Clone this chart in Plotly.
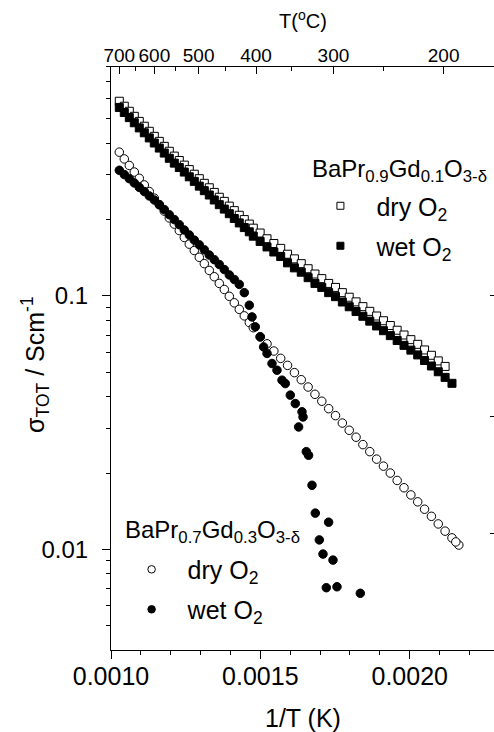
import plotly.graph_objects as go

FONT = "Liberation Sans, Arial, Helvetica, sans-serif"

# ---------------- data ----------------
# shared 1/T grid (K^-1) of the measurement points
inv_T = [0.0010278, 0.0010445, 0.0010613, 0.0010780, 0.0010947, 0.0011115, 0.0011282, 0.0011450, 0.0011617, 0.0011784,
         0.0011952, 0.0012119, 0.0012287, 0.0012454, 0.0012621, 0.0012789, 0.0012956, 0.0013124, 0.0013291, 0.0013458,
         0.0013626, 0.0013793, 0.0013961, 0.0014128, 0.0014295, 0.0014463, 0.0014630,
         0.0014764, 0.0014993, 0.0015223, 0.0015452, 0.0015681, 0.0015911, 0.0016140, 0.0016369, 0.0016599, 0.0016828,
         0.0017057, 0.0017287, 0.0017516, 0.0017745, 0.0017975, 0.0018204, 0.0018433, 0.0018663, 0.0018892, 0.0019121,
         0.0019351, 0.0019580, 0.0019809, 0.0020039, 0.0020268, 0.0020497, 0.0020727, 0.0020956, 0.0021185, 0.0021415, 0.0021644]

# BaPr0.9Gd0.1O3-d, dry O2 (first 56 grid points)
sigma_g01_dry = [0.586, 0.560, 0.535, 0.511, 0.488, 0.467, 0.446, 0.426, 0.407, 0.389,
                 0.372, 0.356, 0.342, 0.328, 0.315, 0.302, 0.290, 0.278, 0.267, 0.256,
                 0.245, 0.236, 0.226, 0.217, 0.208, 0.200, 0.192, 0.185, 0.177, 0.168,
                 0.161, 0.154, 0.146, 0.140, 0.134, 0.128, 0.122, 0.117, 0.112, 0.108,
                 0.103, 0.0988, 0.0947, 0.0907, 0.0869, 0.0833, 0.0798, 0.0764, 0.0732, 0.0701,
                 0.0672, 0.0644, 0.0612, 0.0583, 0.0554, 0.0527]

# BaPr0.9Gd0.1O3-d, wet O2 (first 57 grid points)
sigma_g01_wet = [0.554, 0.529, 0.505, 0.482, 0.460, 0.440, 0.420, 0.401, 0.383, 0.366,
                 0.349, 0.334, 0.321, 0.308, 0.295, 0.283, 0.271, 0.260, 0.250, 0.239,
                 0.229, 0.220, 0.211, 0.202, 0.194, 0.186, 0.179,
                 0.172, 0.164, 0.156, 0.149, 0.143, 0.135, 0.129, 0.124, 0.118, 0.112,
                 0.108, 0.103, 0.0993, 0.0946, 0.0906, 0.0868, 0.0831, 0.0795, 0.0761, 0.0729,
                 0.0697, 0.0667, 0.0638, 0.0611, 0.0585, 0.0556, 0.0529, 0.0502, 0.0477, 0.0452]

# BaPr0.7Gd0.3O3-d, dry O2 (all 58 grid points + one last point)
sigma_g03_dry = [0.369, 0.347, 0.327, 0.308, 0.291, 0.274, 0.258, 0.243, 0.229, 0.216,
                 0.203, 0.192, 0.181, 0.170, 0.160, 0.151, 0.142, 0.134, 0.126, 0.119,
                 0.112, 0.106, 0.0996, 0.0939, 0.0885, 0.0834, 0.0785,
                 0.0749, 0.0690, 0.0647, 0.0606, 0.0567, 0.0532, 0.0498, 0.0467, 0.0437, 0.0409,
                 0.0384, 0.0359, 0.0337, 0.0315, 0.0295, 0.0277, 0.0259, 0.0243, 0.0227, 0.0213,
                 0.0200, 0.0187, 0.0175, 0.0164, 0.0154, 0.0144, 0.0135, 0.0126, 0.0118, 0.0111, 0.0104]
g03_dry_last_invT = [0.0021543]
g03_dry_last_sigma = [0.0107]

# BaPr0.7Gd0.3O3-d, wet O2 (first 27 grid points, then scattered tail)
sigma_g03_wet_dense = [0.313, 0.301, 0.290, 0.279, 0.268, 0.258, 0.248, 0.239, 0.229, 0.219,
                       0.209, 0.200, 0.191, 0.182, 0.174, 0.166, 0.159, 0.152, 0.145, 0.139,
                       0.133, 0.127, 0.121, 0.116, 0.111, 0.103, 0.0919]
g03_wet_tail_invT = [0.0014721, 0.0014831, 0.0014998, 0.0015109, 0.0015223, 0.0015390, 0.0015557, 0.0015725,
                     0.0015835, 0.0016003, 0.0016170, 0.0016394, 0.0016428, 0.0016281, 0.0016538, 0.0016615,
                     0.0016729, 0.0016840, 0.0017285, 0.0016974, 0.0017097, 0.0017432, 0.0017208, 0.0017566,
                     0.0018346]
g03_wet_tail_sigma = [0.0826, 0.0755, 0.0689, 0.0629, 0.0593, 0.0541, 0.0509, 0.0465, 0.0451, 0.0406,
                      0.0376, 0.0349, 0.0333, 0.0304, 0.0243, 0.0235, 0.0179, 0.0139, 0.0128, 0.0109,
                      0.00958, 0.00907, 0.00706, 0.00712, 0.00671]

# axis ticks
top_T_major = [700, 600, 500, 400, 300, 200]
top_T_minor = [650, 550, 450, 350, 250]
y_major = [0.01, 0.1]
y_major_text = ["0.01", "0.1"]
y_minor = [0.004, 0.005, 0.006, 0.007, 0.008, 0.009,
           0.02, 0.03, 0.04, 0.05, 0.06, 0.07, 0.08, 0.09,
           0.2, 0.3, 0.4, 0.5, 0.6, 0.7, 0.8]
y_right_ticks = [0.1, 0.0333, 0.0116]

X_RANGE = [0.001, 0.0022822]
Y_RANGE = [-2.397, -0.097]

# ---------------- figure ----------------
fig = go.Figure()

open_sq = dict(symbol="square", size=8, color="white", line=dict(color="black", width=1))
fill_sq = dict(symbol="square", size=8, color="black", line=dict(color="black", width=1))
open_ci = dict(symbol="circle", size=8.5, color="white", line=dict(color="black", width=1))
fill_ci = dict(symbol="circle", size=8.5, color="black", line=dict(color="black", width=1))

fig.add_trace(go.Scatter(x=inv_T[:len(sigma_g01_dry)], y=sigma_g01_dry, mode="markers",
                         marker=open_sq, showlegend=False))
fig.add_trace(go.Scatter(x=inv_T[:len(sigma_g01_wet)], y=sigma_g01_wet, mode="markers",
                         marker=fill_sq, showlegend=False))
fig.add_trace(go.Scatter(x=inv_T + g03_dry_last_invT, y=sigma_g03_dry + g03_dry_last_sigma, mode="markers",
                         marker=open_ci, showlegend=False))
fig.add_trace(go.Scatter(x=inv_T[:len(sigma_g03_wet_dense)] + g03_wet_tail_invT,
                         y=sigma_g03_wet_dense + g03_wet_tail_sigma, mode="markers",
                         marker=fill_ci, showlegend=False))

# legend entries (no data) - also anchor the top axis
leg_sq_open = dict(symbol="square", size=7, color="white", line=dict(color="black", width=1))
leg_sq_fill = dict(symbol="square", size=7, color="black", line=dict(color="black", width=1))
leg_ci_open = dict(symbol="circle", size=7.5, color="white", line=dict(color="black", width=1))
leg_ci_fill = dict(symbol="circle", size=7.5, color="black", line=dict(color="black", width=1))
fig.add_trace(go.Scatter(x=[None], y=[None], mode="markers", name="dry O<sub>2</sub>", marker=leg_sq_open,
                         legend="legend", xaxis="x2"))
fig.add_trace(go.Scatter(x=[None], y=[None], mode="markers", name="wet O<sub>2</sub>", marker=leg_sq_fill,
                         legend="legend2", xaxis="x2"))
fig.add_trace(go.Scatter(x=[None], y=[None], mode="markers", name="dry O<sub>2</sub>", marker=leg_ci_open,
                         legend="legend3", xaxis="x2"))
fig.add_trace(go.Scatter(x=[None], y=[None], mode="markers", name="wet O<sub>2</sub>", marker=leg_ci_fill,
                         legend="legend4", xaxis="x2"))
# anchor for the right-hand ticks
fig.add_trace(go.Scatter(x=[None], y=[None], mode="markers", yaxis="y2", showlegend=False, hoverinfo="skip"))

axis_common = dict(showgrid=False, zeroline=False, showline=True, linecolor="black", linewidth=1,
                   tickcolor="black", tickwidth=1)

legend_common = dict(xanchor="left", yanchor="top", bgcolor="rgba(0,0,0,0)", borderwidth=0,
                     font=dict(family=FONT, size=25, color="black"), itemwidth=62,
                     itemsizing="trace")

fig.update_layout(
    width=494, height=732,
    margin=dict(l=111, r=0, t=67, b=82),
    paper_bgcolor="white", plot_bgcolor="white",
    font=dict(family=FONT, color="black"),
    hovermode=False,
    xaxis=dict(range=X_RANGE, tickmode="linear", tick0=0.001, dtick=0.0005, tickformat=".4f",
               ticks="outside", ticklen=8, tickfont=dict(size=25), ticklabelstandoff=-4,
               minor=dict(tick0=0.001, dtick=0.0001, ticks="outside", ticklen=4, tickcolor="black",
                          showgrid=False),
               **axis_common),
    xaxis2=dict(range=X_RANGE, overlaying="x", side="top", anchor="y",
                tickmode="array", tickvals=[1.0 / (t + 273.15) for t in top_T_major],
                ticktext=[str(t) for t in top_T_major], ticks="inside", ticklen=7,
                tickfont=dict(size=19), ticklabelstandoff=-4,
                minor=dict(tickmode="array", tickvals=[1.0 / (t + 273.15) for t in top_T_minor],
                           ticks="inside", ticklen=4, tickcolor="black", showgrid=False),
                **axis_common),
    yaxis=dict(type="log", range=Y_RANGE, tickmode="array", tickvals=y_major, ticktext=y_major_text,
               ticks="outside", ticklen=8, tickfont=dict(size=24), ticklabelstandoff=9,
               minor=dict(tickmode="array", tickvals=y_minor, ticks="outside", ticklen=4,
                          tickcolor="black", showgrid=False),
               **axis_common),
    yaxis2=dict(type="log", range=Y_RANGE, overlaying="y", side="right", anchor="x",
                tickmode="array", tickvals=y_right_ticks, ticks="inside", ticklen=4,
                tickcolor="black", showticklabels=False, showline=False, showgrid=False, zeroline=False),
    legend=dict(x=0.505, y=0.801, **legend_common),
    legend2=dict(x=0.505, y=0.7324, **legend_common),
    legend3=dict(x=0.012, y=0.1774, **legend_common),
    legend4=dict(x=0.012, y=0.1088, **legend_common),
    annotations=[
        dict(text="BaPr<sub>0.9</sub>Gd<sub>0.1</sub>O<sub>3-δ</sub>", xref="paper", yref="paper",
             x=0.5196, y=0.8233, xanchor="left", yanchor="middle", showarrow=False,
             font=dict(family=FONT, size=24, color="black")),
        dict(text="BaPr<sub>0.7</sub>Gd<sub>0.3</sub>O<sub>3-δ</sub>", xref="paper", yref="paper",
             x=0.0313, y=0.2041, xanchor="left", yanchor="middle", showarrow=False,
             font=dict(family=FONT, size=24, color="black")),
        dict(text="1/T (K)", xref="paper", yref="paper", x=0.5, y=0, xanchor="center", yanchor="middle",
             yshift=-68, showarrow=False, font=dict(family=FONT, size=25, color="black")),
        dict(text="T(<sup>o</sup>C)", xref="paper", yref="paper", x=0.5, y=1, xanchor="center",
             yanchor="middle", yshift=48, showarrow=False, font=dict(family=FONT, size=20, color="black")),
        dict(text="σ<sub>TOT</sub> / Scm<sup>-1</sup>", xref="paper", yref="paper", x=0, y=0.489,
             xanchor="center", yanchor="middle", xshift=-76, textangle=-90, showarrow=False,
             font=dict(family=FONT, size=25, color="black")),
    ],
)

fig.write_html("out.html", config={"displayModeBar": False, "staticPlot": True},
               post_script="document.body.style.margin='0';document.body.style.padding='0';")
